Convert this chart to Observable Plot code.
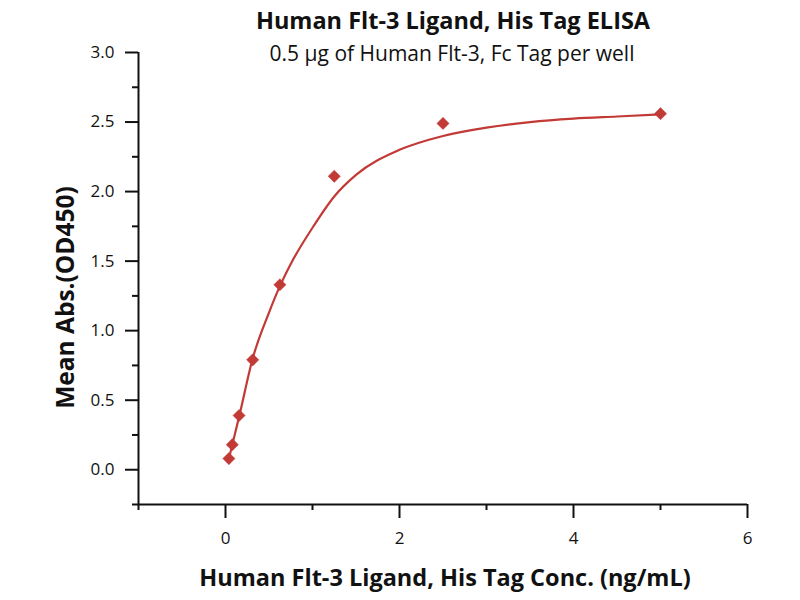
<!DOCTYPE html>
<html>
<head>
<meta charset="utf-8">
<script src="https://cdn.jsdelivr.net/npm/d3@7"></script>
<script src="https://cdn.jsdelivr.net/npm/@observablehq/plot@0.6"></script>
<style>
  html, body { margin: 0; padding: 0; background: #fff; }
  #chart { width: 800px; height: 600px; }
</style>
</head>
<body>
<div id="chart"></div>
<script>
// Measured points (concentration ng/mL, mean absorbance OD450)
const conc = [0.039, 0.078, 0.156, 0.3125, 0.625, 1.25, 2.5, 5];
const absorb = [0.08, 0.18, 0.39, 0.79, 1.33, 2.11, 2.49, 2.56];

// Fitted curve
const fitX = [0.039, 0.078, 0.156, 0.3125, 0.5, 0.625, 0.75, 1.0, 1.25, 1.5, 2.0, 2.5, 3.0, 3.5, 4.0, 4.5, 5.0];
const fitY = [0.08, 0.18, 0.38, 0.80, 1.13, 1.32, 1.48, 1.74, 1.965, 2.12, 2.30, 2.40, 2.46, 2.50, 2.525, 2.54, 2.555];

// Ticks
const xMajorTicks = [0, 2, 4, 6];
const xMinorTicks = [-1, 1, 3, 5];
const yMajorTicks = [0, 0.5, 1.0, 1.5, 2.0, 2.5, 3.0];
const yMinorTicks = [-0.25, 0.25, 0.75, 1.25, 1.75, 2.25, 2.75];

const titleText = "Human Flt-3 Ligand, His Tag ELISA";
const subtitleText = "0.5 μg of Human Flt-3, Fc Tag per well";
const xLabel = "Human Flt-3 Ligand, His Tag Conc. (ng/mL)";
const yLabel = "Mean Abs.(OD450)";

const points = conc.map((c, i) => ({x: c, y: absorb[i]}));
const fit = fitX.map((x, i) => ({x, y: fitY[i]}));

const red = "#c23a36";
const ink = "#111";
const font = "'Open Sans', 'Liberation Sans', sans-serif";

const chart = Plot.plot({
  width: 800,
  height: 600,
  marginLeft: 138,
  marginRight: 53,
  marginTop: 52,
  marginBottom: 96,
  style: {fontFamily: font, background: "#fff", color: ink},
  x: {domain: [-1, 6], axis: null},
  y: {domain: [-0.25, 3.0], axis: null},
  marks: [
    Plot.axisX({ticks: xMajorTicks, tickSize: 14, tickPadding: 13, fontSize: 17, tickFormat: d3.format("d"), strokeWidth: 2, label: null}),
    Plot.axisX({ticks: xMinorTicks, tickSize: 6, tickFormat: () => "", strokeWidth: 2, label: null}),
    Plot.axisY({ticks: yMajorTicks, tickSize: 13, tickPadding: 11, fontSize: 17, tickFormat: d3.format(".1f"), strokeWidth: 2, label: null}),
    Plot.axisY({ticks: yMinorTicks, tickSize: 6, tickFormat: () => "", strokeWidth: 2, label: null}),
    Plot.ruleX([-1], {y1: -0.25, y2: 3.0, stroke: ink, strokeWidth: 2}),
    Plot.ruleY([-0.25], {x1: -1, x2: 6, stroke: ink, strokeWidth: 2}),
    Plot.line(fit, {x: "x", y: "y", curve: "monotone-x", stroke: red, strokeWidth: 2.2}),
    Plot.dot(points, {x: "x", y: "y", symbol: "diamond2", r: 5.5, fill: red, stroke: red, strokeWidth: 0.5}),
    Plot.text([titleText], {frameAnchor: "top", dx: 10, dy: -40, fontSize: 23.5, fontWeight: "bold", fill: ink}),
    Plot.text([subtitleText], {frameAnchor: "top", dx: 9, dy: -6, fontSize: 21, fill: ink}),
    Plot.text([xLabel], {frameAnchor: "bottom", dx: 2, dy: 81, fontSize: 23.5, fontWeight: "bold", fill: ink}),
    Plot.text([yLabel], {frameAnchor: "left", textAnchor: "middle", dx: -72, dy: 19, rotate: -90, fontSize: 24.5, fontWeight: "bold", fill: ink})
  ]
});
document.getElementById("chart").appendChild(chart);
</script>
</body>
</html>
